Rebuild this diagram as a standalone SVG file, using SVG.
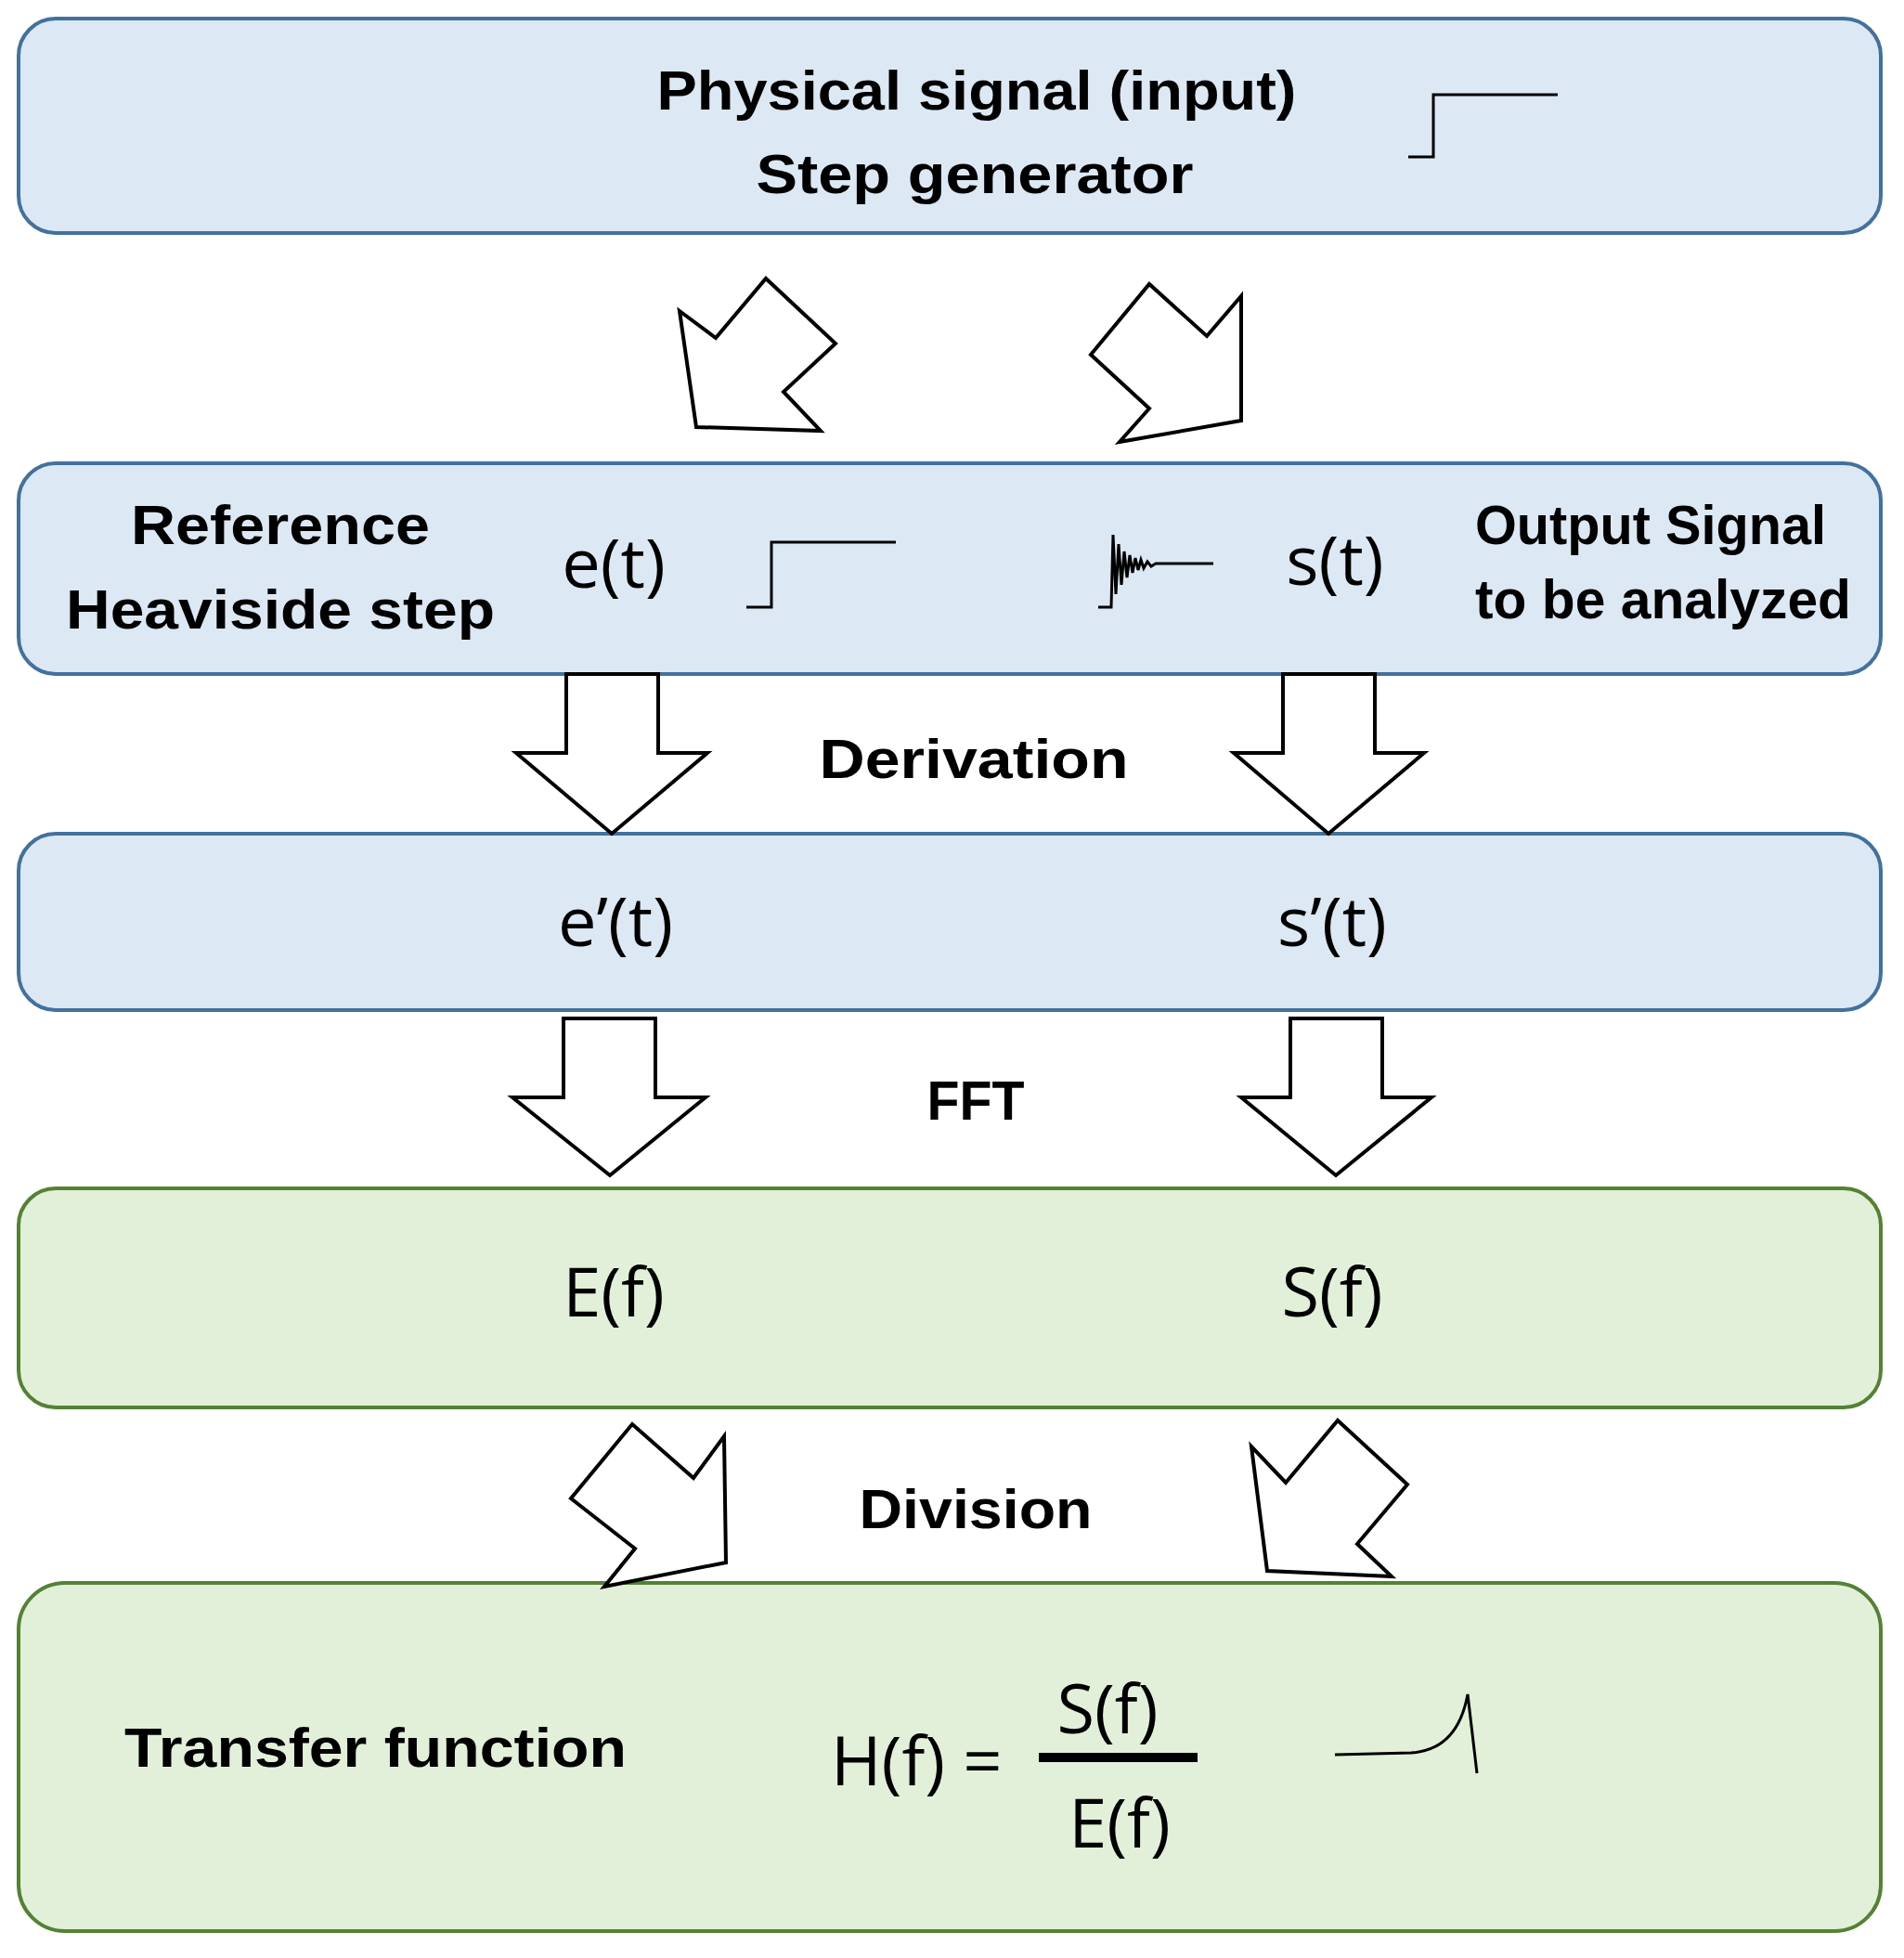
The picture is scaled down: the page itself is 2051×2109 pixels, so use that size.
<svg xmlns="http://www.w3.org/2000/svg" width="2051" height="2109" viewBox="0 0 2051 2109">
<style>
.blue{fill:#dde8f5;stroke:#41719c;stroke-width:4}
.green{fill:#e2efd9;stroke:#548235;stroke-width:4}
.b{font-family:"Liberation Sans",Arial,sans-serif;font-weight:bold;font-size:60px;fill:#000}
.r{font-family:"Open Sans","Liberation Sans",sans-serif;font-size:74px;fill:#000;text-anchor:middle}
.arr{fill:#fff;stroke:#000;stroke-width:4;stroke-linejoin:miter}
.ic{fill:none;stroke:#000;stroke-width:3}
</style>
<rect width="2051" height="2109" fill="#fff"/>
<g id="n1">
<rect class="blue" x="20" y="20" width="2006" height="231" rx="40"/>
<text class="b" x="1052" y="118" text-anchor="middle" textLength="689" lengthAdjust="spacingAndGlyphs">Physical signal (input)</text>
<text class="b" x="1050" y="208" text-anchor="middle" textLength="471" lengthAdjust="spacingAndGlyphs">Step generator</text>
<polyline class="ic" points="1517,169 1544,169 1544,102 1678,102"/>
</g>
<g id="n2">
<rect class="blue" x="20" y="499" width="2006" height="227" rx="40"/>
<text class="b" x="302" y="586" text-anchor="middle" textLength="322" lengthAdjust="spacingAndGlyphs">Reference</text>
<text class="b" x="302" y="677" text-anchor="middle" textLength="462" lengthAdjust="spacingAndGlyphs">Heaviside step</text>
<text class="r" x="661" y="633">e(t)</text>
<polyline class="ic" points="804,654 831,654 831,584 965,584"/>
<path class="ic" stroke-width="2" d="M1183,654 L1197,654 L1199,576 L1202,640 L1205,586 L1208,630 L1211,594 L1214,622 L1217,598 L1220,617 L1223,601 L1226,614 L1229,603 L1232,612 L1236,605 L1240,610 L1245,607 L1307,607"/>
<text class="r" x="1438" y="630">s(t)</text>
<text class="b" x="1589" y="586" textLength="378" lengthAdjust="spacingAndGlyphs">Output Signal</text>
<text class="b" x="1589" y="666" textLength="405" lengthAdjust="spacingAndGlyphs">to be analyzed</text>
</g>
<g id="n3">
<rect class="blue" x="20" y="898" width="2006" height="190" rx="40"/>
<text class="r" x="663" y="1019">e’(t)</text>
<text class="r" x="1435" y="1019">s’(t)</text>
</g>
<g id="n4">
<rect class="green" x="20" y="1280" width="2006" height="236" rx="40"/>
<text class="r" x="661" y="1418">E(f)</text>
<text class="r" x="1435" y="1418">S(f)</text>
</g>
<g id="n5">
<rect class="green" x="20" y="1705" width="2006" height="375" rx="50"/>
<text class="b" x="134" y="1903" textLength="541" lengthAdjust="spacingAndGlyphs">Transfer function</text>
<text class="r" x="895" y="1923" style="text-anchor:start">H(f) =</text>
<text class="r" x="1193" y="1867">S(f)</text>
<rect x="1119" y="1888" width="171" height="10" fill="#000"/>
<text class="r" x="1206" y="1990">E(f)</text>
<path class="ic" d="M1438,1890 L1520,1888 Q1570,1885 1581,1825 L1591,1910"/>
</g>
<g id="connectors">
<polygon class="arr" points="732,335 771,364 825,300 900,370 844,422 884,464 750,460"/>
<polygon class="arr" points="1175,382 1238,306 1300,362 1337,319 1337,453 1206,476 1238,440"/>
<polygon class="arr" points="610,726 709,726 709,811 762,811 659,898 556,811 610,811"/>
<polygon class="arr" points="1382,726 1481,726 1481,811 1534,811 1431,898 1329,811 1382,811"/>
<polygon class="arr" points="607,1097 706,1097 706,1182 760,1182 657,1266 552,1182 607,1182"/>
<polygon class="arr" points="1390,1097 1489,1097 1489,1182 1542,1182 1439,1266 1337,1182 1390,1182"/>
<polygon class="arr" points="681,1534 747,1592 780,1547 782,1683 651,1709 684,1668 615,1614"/>
<polygon class="arr" points="1441,1530 1516,1599 1462,1663 1499,1698 1365,1692 1348,1558 1385,1597"/>
<text class="b" x="1049" y="838" text-anchor="middle" textLength="333" lengthAdjust="spacingAndGlyphs">Derivation</text>
<text class="b" x="1051" y="1206" text-anchor="middle" textLength="105" lengthAdjust="spacingAndGlyphs">FFT</text>
<text class="b" x="1051" y="1646" text-anchor="middle" textLength="251" lengthAdjust="spacingAndGlyphs">Division</text>
</g>
</svg>
